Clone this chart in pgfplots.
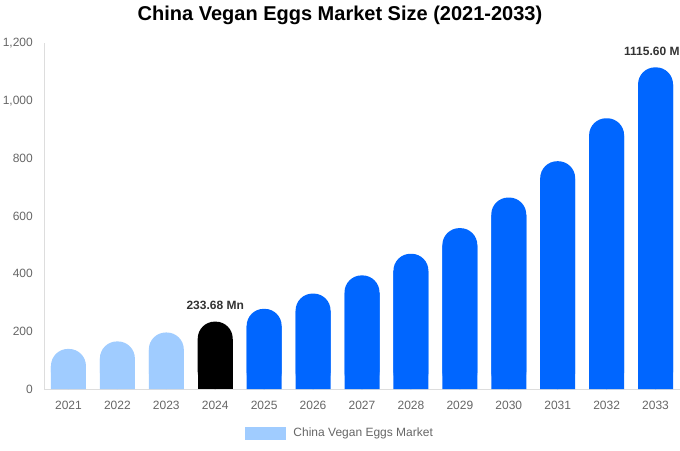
\documentclass[border=0pt]{standalone}
\usepackage{fontspec}
\setmainfont{Liberation Sans}
\usepackage{pgfplots}
\usepackage{pgfplotstable}
\pgfplotsset{compat=1.18}

\definecolor{lightbar}{HTML}{A0CCFF}
\definecolor{mainblue}{HTML}{0066FF}
\definecolor{ticktext}{HTML}{666666}
\definecolor{axisgray}{HTML}{DDDDDD}
\definecolor{labeltext}{HTML}{333333}

% market size, USD Mn
\pgfplotstableread{
x year v
0 2021 139
1 2022 165
2 2023 196
3 2024 233.68
4 2025 278
5 2026 331
6 2027 394
7 2028 469
8 2029 558
9 2030 664
10 2031 790
11 2032 939
12 2033 1115.6
}\sizes

\begin{document}
\begin{tikzpicture}
\begin{axis}[
    at={(0pt,0pt)}, anchor=south west,
    scale only axis, width=636pt, height=346pt,
    xmin=-0.5, xmax=12.5, ymin=0, ymax=1200,
    axis lines*=left,
    axis line style={draw=axisgray, line width=0.8pt},
    ybar, bar width=35pt, bar shift=0pt,
    xtick={0,...,12},
    xticklabels={2021,2022,2023,2024,2025,2026,2027,2028,2029,2030,2031,2032,2033},
    ytick={0,200,...,1200},
    major tick length=0pt,
    /pgf/number format/assume math mode=true,
    /pgf/number format/1000 sep={,},
    tick label style={font=\fontsize{12}{14}\selectfont, text=ticktext},
    xticklabel style={anchor=north, inner sep=0pt, yshift=-12pt},
    yticklabel style={anchor=east, inner sep=0pt, xshift=-11pt},
    title={China Vegan Eggs Market Size (2021-2033)},
    title style={at={(0.4654,1)}, anchor=center, yshift=22pt,
        font=\bfseries\fontsize{20}{24}\selectfont},
    legend style={at={(0.4654,-0.127)}, anchor=center, draw=none, fill=none,
        font=\fontsize{12}{14}\selectfont, text=ticktext, inner sep=0pt,
        column sep=6pt},
    legend image code/.code={\fill[lightbar] (0pt,-6pt) rectangle (40pt,6pt);},
    every node near coord/.append style={anchor=center, yshift=16pt,
        font=\bfseries\fontsize{12}{14}\selectfont, text=labeltext},
]
% rounded tops
\addplot[fill=lightbar, draw=none, rounded corners=17pt, forget plot]
    table[x=x, y=v, restrict x to domain=0:2] {\sizes};
\addplot[fill=black, draw=none, rounded corners=17pt, forget plot]
    table[x=x, y=v, restrict x to domain=3:3] {\sizes};
\addplot[fill=mainblue, draw=none, rounded corners=17pt, forget plot]
    table[x=x, y=v, restrict x to domain=4:12] {\sizes};
% square bottoms
\addplot[fill=lightbar, draw=none, forget plot]
    table[x=x, y expr=\thisrow{v}-60, restrict x to domain=0:2] {\sizes};
\addplot[fill=black, draw=none, forget plot]
    table[x=x, y expr=\thisrow{v}-60, restrict x to domain=3:3] {\sizes};
\addplot[fill=mainblue, draw=none, forget plot]
    table[x=x, y expr=\thisrow{v}-60, restrict x to domain=4:12] {\sizes};
% value labels
\addplot[draw=none, fill=none, forget plot, nodes near coords,
    point meta=explicit symbolic]
    coordinates {(3,233.68) [233.68 Mn] (12,1115.6) [1115.60 Mn]};
\addlegendimage{lightbar}
\addlegendentry{China Vegan Eggs Market}
\end{axis}
\pgfresetboundingbox
\path[use as bounding box] (-44pt,-61pt) rectangle (636pt,389pt);
\end{tikzpicture}
\end{document}
